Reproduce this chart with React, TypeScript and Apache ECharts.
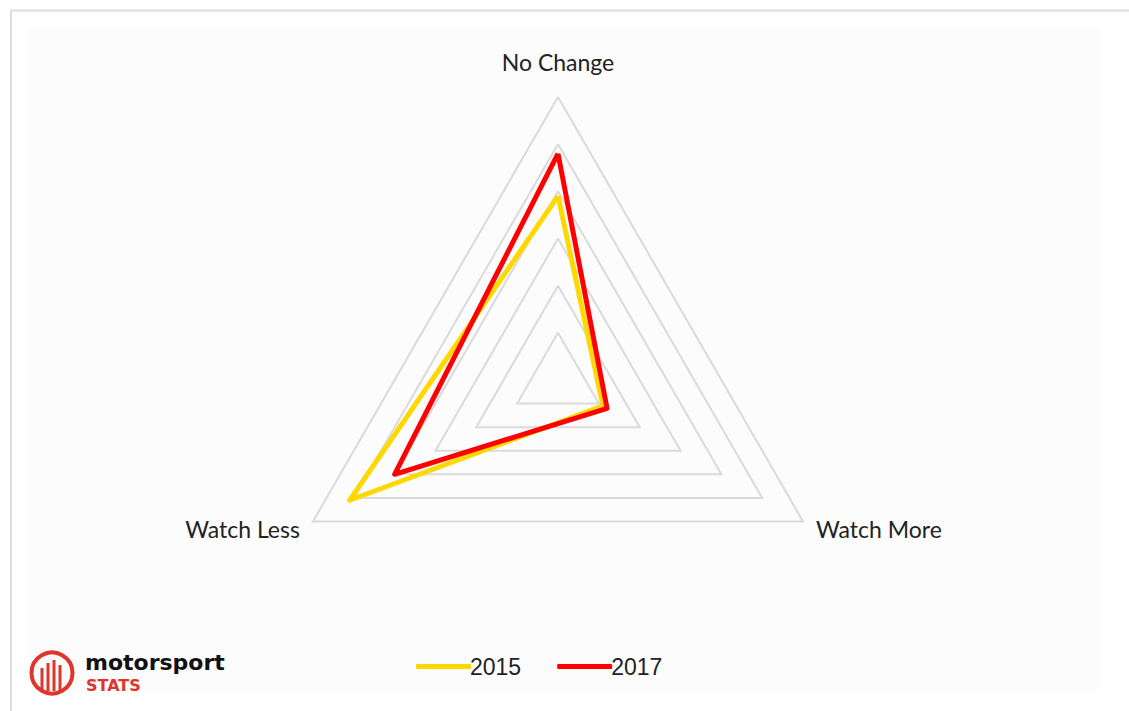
import React, { useEffect, useRef } from "react";
import * as echarts from "echarts";

const indicators = ["No Change", "Watch Less", "Watch More"];
const maxValue = 60;
const seriesNames = ["2015", "2017"];
const values2015 = [39, 51, 11];
const values2017 = [48, 40, 12];
const seriesColors = ["#FFD800", "#FF0000"];

export default function App() {
  const ref = useRef<HTMLDivElement>(null);
  useEffect(() => {
    if (!ref.current) return;
    const chart = echarts.init(ref.current, null, { renderer: "svg" });
    const red = "#E0352B";
    chart.setOption({
      animation: false,
      backgroundColor: "#ffffff",
      graphic: [
        {
          type: "rect",
          shape: { x: 28, y: 28, width: 1072, height: 662 },
          style: { fill: "#fcfcfc" },
          z: -10,
        },
        {
          type: "polyline",
          shape: { points: [[11, 720], [11, 10.5], [1140, 10.5]] },
          style: { stroke: "#dcdcdc", lineWidth: 2, fill: "none" },
          z: -5,
        },
        {
          type: "circle",
          shape: { cx: 52, cy: 673, r: 20.5 },
          style: { stroke: red, lineWidth: 4, fill: "none" },
        },
        ...[
          [42, 668],
          [48, 663],
          [54, 660],
          [60, 665],
        ].map(([x, y]) => ({
          type: "line",
          shape: { x1: x, y1: y, x2: x, y2: 691 },
          style: { stroke: red, lineWidth: 3 },
        })),
        {
          type: "text",
          x: 85,
          y: 662,
          style: {
            text: "motorsport",
            font: "bold 22px 'DejaVu Sans', sans-serif",
            fill: "#111",
            verticalAlign: "middle",
            textAlign: "left",
          },
        },
        {
          type: "text",
          x: 86,
          y: 685,
          style: {
            text: "STATS",
            font: "bold 16px 'DejaVu Sans', sans-serif",
            fill: red,
            verticalAlign: "middle",
            textAlign: "left",
          },
        },
      ],
      legend: {
        left: 411,
        top: 650,
        itemWidth: 55,
        itemHeight: 5,
        itemGap: 36,
        data: seriesNames.map((n, i) => ({
          name: n,
          icon: "roundRect",
          itemStyle: { color: seriesColors[i] },
        })),
        textStyle: {
          fontSize: 23,
          fontFamily: "'Liberation Sans', Arial, sans-serif",
          color: "#222",
          padding: [0, 0, 0, -6],
        },
      },
      radar: {
        center: [558, 380],
        radius: 283,
        startAngle: 90,
        splitNumber: 6,
        shape: "polygon",
        indicator: indicators.map((n) => ({ name: n, max: maxValue })),
        axisName: {
          color: "#222",
          fontSize: 23,
          fontFamily: "Lato, 'Noto Sans', sans-serif",
          padding: [0, 0, 9, 0],
        },
        nameGap: 15,
        axisLine: { show: false },
        splitArea: { show: false },
        splitLine: { lineStyle: { color: "#dadada", width: 2 } },
      },
      series: [
        {
          type: "radar",
          symbol: "none",
          data: [
            {
              name: seriesNames[0],
              value: values2015,
              lineStyle: { color: seriesColors[0], width: 5, join: "round" },
              itemStyle: { color: seriesColors[0] },
            },
            {
              name: seriesNames[1],
              value: values2017,
              lineStyle: { color: seriesColors[1], width: 5, join: "round" },
              itemStyle: { color: seriesColors[1] },
            },
          ],
        },
      ],
    });
    return () => chart.dispose();
  }, []);
  return (
    <div
      ref={ref}
      style={{ position: "absolute", left: 0, top: 0, width: 1129, height: 711 }}
    />
  );
}
